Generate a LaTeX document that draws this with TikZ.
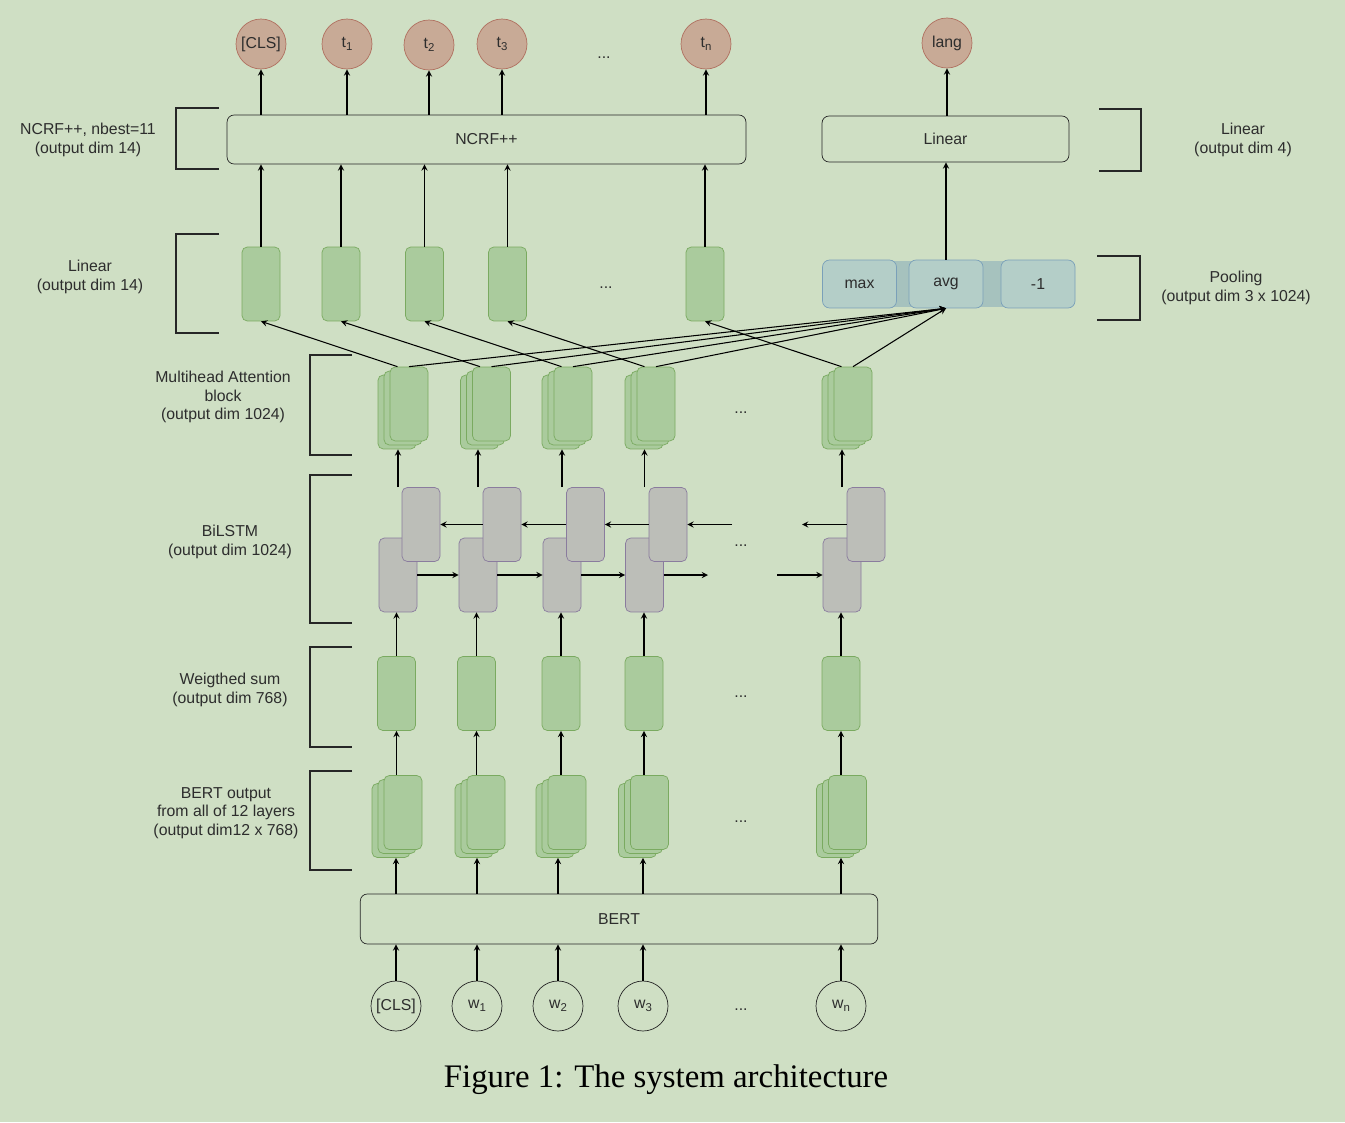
\documentclass[tikz,border=0pt]{standalone}
\usepackage{fontspec}
\setmainfont{Liberation Sans}
\newfontfamily\capfont{Liberation Serif}
\usepackage{tikz}
\usetikzlibrary{arrows, calc}
\definecolor{Paper}{RGB}{207,223,196}
\definecolor{TagFill}{RGB}{200,170,150}
\definecolor{TagLine}{RGB}{176,112,96}
\definecolor{CellFill}{RGB}{170,203,157}
\definecolor{CellLine}{RGB}{122,170,96}
\definecolor{LstmFill}{RGB}{188,190,184}
\definecolor{LstmLine}{RGB}{138,124,158}
\definecolor{PoolFill}{RGB}{180,206,200}
\definecolor{PoolLine}{RGB}{122,160,185}
\definecolor{PoolBack}{RGB}{166,194,190}
\definecolor{Ink}{RGB}{45,45,45}

\newcommand{\lowidx}[1]{\raisebox{-0.4ex}{\fontsize{6.5}{7}\selectfont #1}}

\tikzset{
    lab/.style={font=\fontsize{9}{10.6}\selectfont, text=Ink, align=center},
    tag/.style={lab, circle, draw=TagLine, fill=TagFill, minimum size=1cm, inner sep=0pt},
    word/.style={lab, circle, draw=black!85, minimum size=1cm, inner sep=0pt},
    layer/.style={lab, draw=black!85, rounded corners=4pt, inner sep=0pt},
    cell/.style={draw=CellLine, fill=CellFill, rounded corners=3pt, minimum width=0.76cm, minimum height=1.48cm, inner sep=0pt},
    lstm/.style={cell, draw=LstmLine, fill=LstmFill},
    pool/.style={lab, draw=PoolLine, fill=PoolFill, rounded corners=4pt, minimum width=1.48cm, minimum height=0.96cm, inner sep=0pt},
    arr/.style={-stealth, line width=0.6pt, black},
    brace/.style={line width=1.5pt, black!85},
}

\begin{document}
\begin{tikzpicture}[x=0.02cm, y=-0.02cm]

    % background
    \fill[Paper] (0,0) rectangle (1345,1122);
    \useasboundingbox (0,0) rectangle (1345,1122);

    % output tags
    \foreach \x/\y/\t [count=\i] in {261/44/{[CLS]}, 347/44/t\lowidx{1}, 429/45/t\lowidx{2}, 502/44/t\lowidx{3}, 706/44/t\lowidx{n}}
        \node[tag] (tag\i) at (\x,\y) {\t};
    \node[tag] (lang) at (947,43) {lang};
    \node[lab] (dotstag) at (604,58) {...};

    % NCRF++ and sentence linear layer
    \node[layer, minimum width=10.38cm, minimum height=0.98cm] (ncrf) at (486.5,139.5) {NCRF++};
    \node[layer, minimum width=4.94cm, minimum height=0.92cm] (linear) at (945.5,139) {Linear};

    % token linear layer
    \foreach \x [count=\i] in {261,341,424.5,507.5,705}
        \node[cell] (lin\i) at (\x,284) {};
    \node[lab] (dotslin) at (606,288) {...};

    % pooling
    \fill[PoolBack] (828,261) rectangle (1070,307);
    \node[pool] (max) at (859.5,284) {max};
    \node[pool] (avg) at (946,284) {avg};
    \node[pool] (last) at (1038,284) {-1};

    % multihead attention stacks
    \foreach \x [count=\i] in {409,491.5,573,656,853} {
        \node[cell] (attc\i) at (\x-12,412) {};
        \node[cell] (attb\i) at (\x-6,408) {};
        \node[cell] (att\i) at (\x,404) {};
    }
    \node[lab] (dotsatt) at (741,413) {...};

    % BiLSTM, forward row first, backward row on top
    \foreach \x [count=\i] in {398,478,562,644.5,842}
        \node[lstm] (fw\i) at (\x,575) {};
    \foreach \x [count=\i] in {421,502,585.5,668,866}
        \node[lstm] (bw\i) at (\x,524.5) {};
    \node[lab] (dotslstm) at (741,546) {...};
    \coordinate (bwin) at (732,524.5);
    \coordinate (bwout) at (802,524.5);
    \coordinate (fwout) at (708,575);
    \coordinate (fwin) at (777,575);

    % weighted sum
    \foreach \x [count=\i] in {396.5,476.5,561,644,841}
        \node[cell] (ws\i) at (\x,693.5) {};
    \node[lab] (dotsws) at (741,697) {...};

    % BERT output stacks
    \foreach \x [count=\i] in {403,486,567,649.5,847.5} {
        \node[cell] (boc\i) at (\x-12,820.5) {};
        \node[cell] (bob\i) at (\x-6,816.5) {};
        \node[cell] (bo\i) at (\x,812.5) {};
    }
    \node[lab] (dotsbo) at (741,822) {...};

    % BERT and input words
    \node[layer, minimum width=10.35cm, minimum height=1cm] (bert) at (619,919) {BERT};
    \foreach \x/\t [count=\i] in {396/{[CLS]}, 477/w\lowidx{1}, 558/w\lowidx{2}, 643/w\lowidx{3}, 841/w\lowidx{n}}
        \node[word] (in\i) at (\x,1006) {\t};
    \node[lab] (dotsin) at (741,1010) {...};

    % connectors
    \foreach \i in {1,...,5} {
        \draw[arr] (in\i) -- (in\i |- bert.south);
        \draw[arr] (in\i |- bert.north) -- (in\i |- boc\i.south);
        \draw[arr] (ws\i |- bo\i.north) -- (ws\i.south);
        \draw[arr] (ws\i.north) -- (ws\i |- fw\i.south);
        \draw[arr] (fw\i |- bw\i.north) -- (fw\i |- attc\i.south);
        \draw[arr] ([xshift=-0.23cm]att\i.north) -- (lin\i.south);
        \draw[arr] (att\i.north) -- (avg.south);
        \draw[arr] (lin\i.north) -- (lin\i |- ncrf.south);
        \draw[arr] (tag\i |- ncrf.north) -- (tag\i);
    }
    \foreach \i/\j in {1/2,2/3,3/4} {
        \draw[arr] (fw\i.east) -- (fw\j.west);
        \draw[arr] (bw\j.west) -- (bw\i.east);
    }
    \draw[arr] (fw4.east) -- (fwout);
    \draw[arr] (fwin) -- (fw5.west);
    \draw[arr] (bwin) -- (bw4.east);
    \draw[arr] (bw5.west) -- (bwout);
    \draw[arr] (avg.north) -- (avg |- linear.south);
    \draw[arr] (lang |- linear.north) -- (lang);

    % brackets, left
    \draw[brace] (219,108) -- (176,108) -- (176,169) -- (219,169);
    \draw[brace] (219,234) -- (176,234) -- (176,333) -- (219,333);
    \draw[brace] (352,355) -- (310,355) -- (310,455) -- (352,455);
    \draw[brace] (352,475) -- (310,475) -- (310,623) -- (352,623);
    \draw[brace] (352,647) -- (310,647) -- (310,747) -- (352,747);
    \draw[brace] (352,771) -- (310,771) -- (310,870) -- (352,870);
    % brackets, right
    \draw[brace] (1099,109) -- (1141,109) -- (1141,171) -- (1099,171);
    \draw[brace] (1097,256) -- (1140,256) -- (1140,320) -- (1097,320);

    % layer notes
    \node[lab] (notencrf) at (88,140) {NCRF++, nbest=11\\(output dim 14)};
    \node[lab] (notelin) at (90,277) {Linear\\(output dim 14)};
    \node[lab] (noteatt) at (223,397) {Multihead Attention\\block\\(output dim 1024)};
    \node[lab] (notelstm) at (230,542) {BiLSTM\\(output dim 1024)};
    \node[lab] (notews) at (230,690) {Weigthed sum\\(output dim 768)};
    \node[lab] (notebo) at (226,813) {BERT output\\from all of 12 layers\\(output dim12 x 768)};
    \node[lab] (notelinear) at (1243,140) {Linear\\(output dim 4)};
    \node[lab] (notepool) at (1236,288) {Pooling\\(output dim 3 x 1024)};

    % caption
    \node[font=\capfont\fontsize{18.7}{22}\selectfont] (caption) at (666,1080) {Figure 1: The system architecture};

\end{tikzpicture}
\end{document}
